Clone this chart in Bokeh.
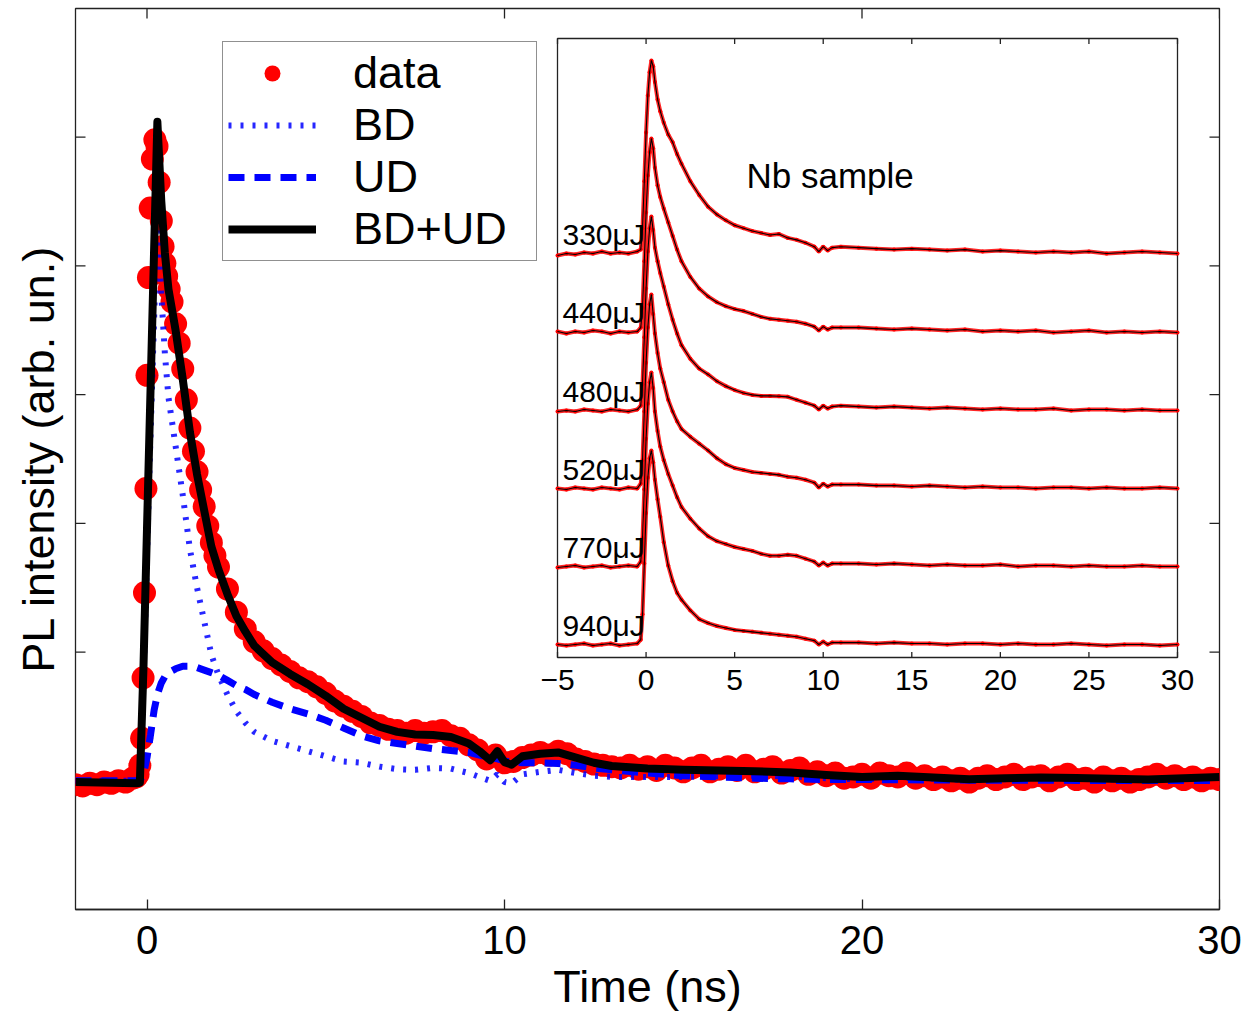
import numpy as np
from bokeh.plotting import figure
from bokeh.models import Range1d, FixedTicker, Legend, LegendItem, Title
from bokeh.core.properties import value
from bokeh.embed import file_html
from bokeh.resources import INLINE

FONT = "Liberation Sans"

# ---------------- main panel data ----------------
t_data = [-2.0, -1.8, -1.6, -1.4, -1.2, -1.0, -0.8, -0.6, -0.4, -0.3,
          -0.25, -0.2, -0.15, -0.11, -0.07, -0.03, 0.0, 0.04, 0.09, 0.15, 0.22, 0.28, 0.34, 0.4, 0.45, 0.5, 0.55, 0.62,
          0.7, 0.8, 0.9, 1.0, 1.1, 1.2, 1.3, 1.4, 1.5, 1.6, 1.7, 1.8, 1.9, 2.0,
          2.25, 2.5, 2.75, 3.0, 3.25, 3.5, 3.75, 4.0, 4.25, 4.5, 4.75, 5.0, 5.25, 5.5, 5.75, 6.0,
          6.25, 6.5, 6.75, 7.0, 7.25, 7.5, 7.75, 8.0, 8.25, 8.5, 8.75, 9.0, 9.25, 9.5, 9.75, 10.0,
          10.25, 10.5, 10.75, 11.0, 11.25, 11.5, 11.75, 12.0, 12.25, 12.5, 12.75, 13.0,
          13.25, 13.5, 13.75, 14.0, 14.25, 14.5, 14.75, 15.0, 15.25, 15.5, 15.75, 16.0,
          16.25, 16.5, 16.75, 17.0, 17.25, 17.5, 17.75, 18.0, 18.25, 18.5, 18.75, 19.0,
          19.25, 19.5, 19.75, 20.0, 20.25, 20.5, 20.75, 21.0, 21.25, 21.5, 21.75, 22.0,
          22.25, 22.5, 22.75, 23.0, 23.25, 23.5, 23.75, 24.0, 24.25, 24.5, 24.75, 25.0,
          25.25, 25.5, 25.75, 26.0, 26.25, 26.5, 26.75, 27.0, 27.25, 27.5, 27.75, 28.0,
          28.25, 28.5, 28.75, 29.0, 29.25, 29.5, 29.75, 30.0]
pl_data = [-0.03, -0.04, -0.02, -0.03, -0.01, -0.02, 0.00, -0.01, 0.02, 0.03,
           0.05, 0.12, 0.33, 0.80, 1.46, 2.27, 3.15, 3.91, 4.45, 4.83, 4.98, 4.93, 4.65, 4.35, 4.15, 4.02, 3.92, 3.82,
           3.72, 3.55, 3.40, 3.20, 2.96, 2.74, 2.56, 2.40, 2.26, 2.13, 1.98, 1.85, 1.75, 1.66,
           1.49, 1.31, 1.18, 1.08, 1.01, 0.95, 0.90, 0.85, 0.80, 0.77, 0.73, 0.68, 0.62, 0.58, 0.54, 0.50,
           0.45, 0.43, 0.40, 0.39, 0.37, 0.39, 0.37, 0.38, 0.39, 0.35, 0.33, 0.28, 0.24, 0.17, 0.20, 0.14,
           0.15, 0.18, 0.20, 0.22, 0.20, 0.23, 0.21, 0.17, 0.15, 0.13, 0.12, 0.11,
           0.10, 0.12, 0.09, 0.11, 0.08, 0.12, 0.10, 0.07, 0.10, 0.12, 0.07, 0.09,
           0.11, 0.08, 0.12, 0.07, 0.09, 0.11, 0.06, 0.08, 0.10, 0.05, 0.07, 0.04,
           0.06, 0.02, 0.03, 0.05, 0.02, 0.06, 0.04, 0.03, 0.06, 0.02, 0.04, 0.01,
           0.03, 0.00, 0.02, -0.01, 0.02, 0.04, 0.01, 0.03, 0.05, 0.01, 0.03, 0.04,
           0.00, 0.03, 0.05, 0.01, 0.02, -0.01, 0.03, 0.00, 0.02, -0.01, 0.01, 0.03,
           0.05, 0.02, 0.04, 0.01, 0.03, 0.00, 0.02, 0.01]

t_fit = [-2.0, -1.0, -0.3, -0.2, -0.1, 0.0, 0.1, 0.2, 0.29, 0.4, 0.5, 0.6, 0.8, 1.0, 1.2, 1.4, 1.6, 1.8, 2.0,
         2.25, 2.5, 2.75, 3.0, 3.5, 4.0, 4.5, 5.0, 5.5, 6.0, 6.5, 7.0, 7.5, 8.0, 8.5, 9.0, 9.3, 9.6, 9.8,
         10.0, 10.2, 10.5, 11.0, 11.5, 12.0, 12.5, 13.0, 14, 15, 16, 17, 18, 19, 20, 21, 22, 23, 24, 25,
         26, 27, 28, 29, 30]
bd_fit = [0.0, 0.0, 0.0, 0.0, 0.75, 1.75, 2.7, 3.6, 4.45, 3.78, 3.32, 2.98, 2.6, 2.22, 1.8, 1.5, 1.24, 0.98, 0.82,
          0.67, 0.54, 0.45, 0.38, 0.31, 0.27, 0.23, 0.19, 0.15, 0.14, 0.11, 0.09, 0.085, 0.10, 0.095, 0.06, 0.03, 0.0, 0.05,
          -0.01, -0.02, 0.05, 0.07, 0.085, 0.06, 0.04, 0.03, 0.03, 0.03, 0.035, 0.04, 0.035, 0.02, 0.01, 0.025, 0.015, 0.005, 0.012, 0.018,
          0.016, 0.01, 0.006, 0.015, 0.02]
ud_fit = [0.0, 0.0, 0.0, 0.0, 0.05, 0.18, 0.36, 0.55, 0.67, 0.76, 0.81, 0.84, 0.87, 0.89, 0.89, 0.88, 0.86, 0.84, 0.82,
          0.78, 0.74, 0.71, 0.67, 0.61, 0.56, 0.52, 0.47, 0.41, 0.35, 0.31, 0.29, 0.27, 0.25, 0.235, 0.22, 0.20, 0.18, 0.17,
          0.155, 0.145, 0.14, 0.14, 0.135, 0.12, 0.10, 0.085, 0.06, 0.04, 0.03, 0.02, 0.015, 0.01, 0.01, 0.008, 0.006, 0.005, 0.004, 0.004,
          0.003, 0.003, 0.002, 0.002, 0.002]
sum_fit = [-0.01, -0.015, -0.02, -0.015, 0.87, 1.96, 3.05, 4.14, 5.12, 4.5, 4.1, 3.82, 3.5, 3.12, 2.71, 2.38, 2.10, 1.82, 1.64,
           1.45, 1.28, 1.16, 1.05, 0.92, 0.83, 0.75, 0.66, 0.56, 0.49, 0.42, 0.38, 0.36, 0.355, 0.34, 0.29, 0.23, 0.16, 0.23,
           0.145, 0.125, 0.19, 0.21, 0.22, 0.18, 0.14, 0.115, 0.095, 0.085, 0.08, 0.075, 0.065, 0.045, 0.03, 0.04, 0.025, 0.012, 0.02, 0.025,
           0.022, 0.015, 0.01, 0.02, 0.03]

x_ticks_main = [0, 10, 20, 30]
y_ticks_main = [0, 1, 2, 3, 4, 5]

# ---------------- inset data (normalised traces) ----------------
t_in = [-5, -4.5, -4, -3.5, -3, -2.5, -2, -1.5, -1, -0.5,
        -0.3, -0.2, -0.1, 0.0, 0.1, 0.2, 0.3,
        0.4, 0.5, 0.65, 0.8, 1.0, 1.25, 1.5, 1.75, 2.0,
        2.5, 3.0, 3.5, 4.0, 4.5, 5.0, 5.5, 6.0, 6.5, 7.0, 7.5, 8.0, 8.5, 9.0, 9.5,
        9.75, 10.0, 10.25, 10.5,
        11, 12, 13, 14, 15, 16, 17, 18, 19, 20, 21, 22, 23, 24, 25, 26, 27, 28, 29, 30]
in_330 = [0.00, 0.01, 0.005, 0.015, 0.01, 0.02, 0.01, 0.015, 0.01, 0.02,
          0.03, 0.14, 0.38, 0.63, 0.82, 0.94, 1.0,
          0.97, 0.89, 0.80, 0.74, 0.68, 0.62, 0.58, 0.52, 0.47,
          0.38, 0.31, 0.25, 0.21, 0.18, 0.155, 0.14, 0.125, 0.115, 0.105, 0.11, 0.09, 0.08, 0.065, 0.045,
          0.02, 0.045, 0.025, 0.04,
          0.045, 0.04, 0.035, 0.03, 0.035, 0.03, 0.025, 0.03, 0.02, 0.025, 0.02, 0.015, 0.02, 0.015, 0.02, 0.01, 0.015, 0.02, 0.015, 0.01]
in_440 = [0.01, 0.0, 0.01, 0.005, 0.015, 0.01, 0.0, 0.01, 0.005, 0.01,
          0.03, 0.13, 0.37, 0.62, 0.81, 0.93, 1.0,
          0.95, 0.85, 0.76, 0.70, 0.64, 0.57, 0.50, 0.43, 0.37,
          0.29, 0.23, 0.19, 0.16, 0.14, 0.125, 0.115, 0.10, 0.085, 0.075, 0.07, 0.065, 0.06, 0.05, 0.035,
          0.015, 0.035, 0.02, 0.03,
          0.03, 0.03, 0.025, 0.02, 0.025, 0.02, 0.015, 0.02, 0.01, 0.015, 0.01, 0.015, 0.005, 0.01, 0.015, 0.005, 0.01, 0.005, 0.01, 0.005]
in_480 = [0.0, 0.005, 0.0, 0.01, 0.005, 0.0, 0.01, 0.005, 0.0, 0.01,
          0.03, 0.14, 0.38, 0.63, 0.82, 0.94, 1.0,
          0.93, 0.84, 0.77, 0.71, 0.64, 0.55, 0.47, 0.40, 0.34,
          0.27, 0.22, 0.19, 0.155, 0.13, 0.11, 0.095, 0.085, 0.08, 0.08, 0.078, 0.075, 0.06, 0.045, 0.03,
          0.01, 0.03, 0.015, 0.025,
          0.03, 0.025, 0.02, 0.025, 0.02, 0.015, 0.02, 0.015, 0.01, 0.015, 0.01, 0.01, 0.015, 0.005, 0.01, 0.01, 0.005, 0.01, 0.005, 0.005]
in_520 = [0.005, 0.0, 0.01, 0.005, 0.0, 0.01, 0.005, 0.0, 0.01, 0.005,
          0.03, 0.15, 0.40, 0.65, 0.83, 0.95, 1.0,
          0.90, 0.80, 0.70, 0.62, 0.55, 0.46, 0.40, 0.35, 0.31,
          0.27, 0.235, 0.20, 0.16, 0.13, 0.11, 0.10, 0.09, 0.085, 0.08, 0.075, 0.065, 0.06, 0.05, 0.035,
          0.01, 0.03, 0.015, 0.025,
          0.025, 0.025, 0.02, 0.02, 0.015, 0.02, 0.015, 0.01, 0.015, 0.01, 0.01, 0.005, 0.01, 0.01, 0.005, 0.01, 0.005, 0.005, 0.01, 0.005]
in_770 = [0.0, 0.005, 0.01, 0.0, 0.005, 0.01, 0.0, 0.005, 0.01, 0.005,
          0.03, 0.15, 0.40, 0.66, 0.84, 0.95, 1.0,
          0.92, 0.80, 0.70, 0.62, 0.55, 0.48, 0.42, 0.36, 0.31,
          0.25, 0.20, 0.16, 0.135, 0.12, 0.105, 0.095, 0.085, 0.07, 0.06, 0.06, 0.065, 0.06, 0.045, 0.03,
          0.01, 0.025, 0.01, 0.02,
          0.02, 0.02, 0.015, 0.02, 0.015, 0.01, 0.015, 0.01, 0.01, 0.015, 0.005, 0.01, 0.01, 0.005, 0.01, 0.005, 0.005, 0.01, 0.005, 0.005]
in_940 = [0.005, 0.0, 0.005, 0.01, 0.0, 0.005, 0.01, 0.0, 0.005, 0.01,
          0.03, 0.16, 0.42, 0.68, 0.86, 0.96, 1.0,
          0.94, 0.85, 0.75, 0.66, 0.53, 0.41, 0.33, 0.27, 0.235,
          0.18, 0.135, 0.115, 0.10, 0.09, 0.08, 0.075, 0.07, 0.065, 0.06, 0.055, 0.05, 0.045, 0.035, 0.025,
          0.005, 0.02, 0.005, 0.015,
          0.015, 0.015, 0.01, 0.015, 0.01, 0.01, 0.005, 0.01, 0.01, 0.005, 0.01, 0.005, 0.005, 0.01, 0.005, 0.0, 0.005, 0.005, 0.0, 0.005]
in_labels = ["330μJ", "440μJ", "480μJ", "520μJ", "770μJ", "940μJ"]
in_traces = [in_330, in_440, in_480, in_520, in_770, in_940]
in_offsets = [2.0, 1.6, 1.2, 0.8, 0.4, 0.0]
x_ticks_inset = [-5, 0, 5, 10, 15, 20, 25, 30]
x_tick_labels_inset = ["\u22125", "0", "5", "10", "15", "20", "25", "30"]

# ---------------- layout constants ----------------
W, H = 1245, 1016
ML, MR, MT, MB = 75, 26, 8, 107
FW, FH = W - ML - MR, H - MT - MB          # frame size in px
XR = (-2.0, 30.0)
YR = (-1.0, 6.0)
PX_X = FW / (XR[1] - XR[0])
PX_Y = FH / (YR[1] - YR[0])
TICK = 10  # px

# inset placement inside main frame (fractions of frame) and its own ranges
IN_X = (-5.0, 30.0)
IN_Y = (-0.0615, 3.1125)
IN_FL, IN_FR = (557 - ML) / FW, (1177 - ML) / FW
IN_FB, IN_FT = (MT + FH - 657) / FH, (MT + FH - 38) / FH

def extra_range(lo, hi, f0, f1):
    span = (hi - lo) / (f1 - f0)
    start = lo - f0 * span
    return Range1d(start, start + span)

p = figure(width=W, height=H, output_backend="svg", toolbar_location=None,
           x_range=Range1d(*XR), y_range=Range1d(*YR), y_axis_location=None,
           min_border_left=ML, min_border_right=MR, min_border_top=MT, min_border_bottom=MB,
           background_fill_color="white", border_fill_color="white")
p.extra_x_ranges = {"ix": extra_range(IN_X[0], IN_X[1], IN_FL, IN_FR)}
p.extra_y_ranges = {"iy": extra_range(IN_Y[0], IN_Y[1], IN_FB, IN_FT)}
p.grid.visible = False
p.outline_line_color = "#222222"
p.outline_line_width = 1.3

xa = p.xaxis[0]
xa.ticker = FixedTicker(ticks=x_ticks_main)
xa.major_tick_in = TICK
xa.major_tick_out = 0
xa.minor_tick_line_color = None
xa.axis_line_color = "#222222"
xa.axis_line_width = 1.3
xa.major_tick_line_color = "#222222"
xa.major_tick_line_width = 1.3
xa.major_label_text_font = FONT
xa.major_label_text_font_size = "40px"
xa.major_label_text_color = "black"
xa.major_label_standoff = 16

p.add_layout(Title(text="Time (ns)", align="center", text_font=FONT, text_font_size="45px",
                   text_font_style="normal", text_color="black", standoff=4), "below")
p.add_layout(Title(text="PL intensity (arb. un.)", align="center", vertical_align="middle",
                   text_font=FONT, text_font_size="45px",
                   text_font_style="normal", text_color="black", standoff=22), "left")

# inward ticks on left / right / top edges of the main frame
ny, nx = len(y_ticks_main), len(x_ticks_main)
p.segment(x0=[XR[0]] * ny, y0=y_ticks_main, x1=[XR[0] + TICK / PX_X] * ny, y1=y_ticks_main,
          line_color="#222222", line_width=1.3)
p.segment(x0=[XR[1]] * ny, y0=y_ticks_main, x1=[XR[1] - TICK / PX_X] * ny, y1=y_ticks_main,
          line_color="#222222", line_width=1.3)
p.segment(x0=x_ticks_main, y0=[YR[1]] * nx, x1=x_ticks_main, y1=[YR[1] - TICK / PX_Y] * nx,
          line_color="#222222", line_width=1.3)

# main glyphs
r_data = p.scatter(t_data, pl_data, marker="circle", size=23, fill_color="#ff0000",
                   line_color="#ff0000", line_width=0)
r_bd = p.line(t_fit, bd_fit, line_color="#0000ff", line_width=6, line_dash="3 9", line_alpha=0.85)
r_ud = p.line(t_fit, ud_fit, line_color="#0000ff", line_width=7, line_dash="16 10")
r_sum = p.line(t_fit, sum_fit, line_color="black", line_width=8, line_join="round")

legend = Legend(items=[LegendItem(label="data", renderers=[r_data]),
                       LegendItem(label="BD", renderers=[r_bd]),
                       LegendItem(label="UD", renderers=[r_ud]),
                       LegendItem(label="BD+UD", renderers=[r_sum])],
                location=(222 - ML, MT + FH - 261), orientation="vertical")
legend.label_text_font = FONT
legend.label_text_font_size = "45px"
legend.label_text_color = "black"
legend.glyph_width = 88
legend.glyph_height = 40
legend.label_standoff = 37
legend.label_width = 178
legend.padding = 5
legend.spacing = 0
legend.margin = 0
legend.border_line_color = "#222222"
legend.border_line_width = 1.3
legend.background_fill_color = "white"
legend.background_fill_alpha = 1.0
p.add_layout(legend, "center")

# ---------------- inset ----------------
R = dict(x_range_name="ix", y_range_name="iy")
p.quad(left=[IN_X[0]], right=[IN_X[1]], bottom=[IN_Y[0]], top=[IN_Y[1]],
       fill_color="white", line_color="#222222", line_width=1.3, **R)
for vals, off in zip(in_traces, in_offsets):
    yy = [v + off for v in vals]
    p.line(t_in, yy, line_color="#ff0000", line_width=4, line_alpha=0.85, **R)
    p.scatter(t_in, yy, marker="circle", size=4, fill_color="#ff0000", line_color="#ff0000", line_width=0, **R)
    p.line(t_in, yy, line_color="black", line_width=1.1, **R)

tl = 0.028
n = len(x_ticks_inset)
p.segment(x0=x_ticks_inset, y0=[IN_Y[0]] * n, x1=x_ticks_inset, y1=[IN_Y[0] + tl] * n,
          line_color="#222222", line_width=1.3, **R)
p.segment(x0=x_ticks_inset, y0=[IN_Y[1]] * n, x1=x_ticks_inset, y1=[IN_Y[1] - tl] * n,
          line_color="#222222", line_width=1.3, **R)
p.text(x=x_ticks_inset, y=[IN_Y[0] - 0.066] * n, text=x_tick_labels_inset, text_align="center",
       text_baseline="top", text_font=value(FONT), text_font_size="30px", text_color="black", **R)
p.text(x=[-4.72] * len(in_labels), y=[o + 0.105 for o in in_offsets], text=in_labels,
       text_align="left", text_baseline="middle", text_font=value(FONT), text_font_size="30px",
       text_color="black", **R)
p.text(x=[5.67], y=[2.41], text=["Nb sample"], text_align="left", text_baseline="middle",
       text_font=value(FONT), text_font_size="35px", text_color="black", **R)

open("out.html", "w").write(file_html(p, INLINE))
